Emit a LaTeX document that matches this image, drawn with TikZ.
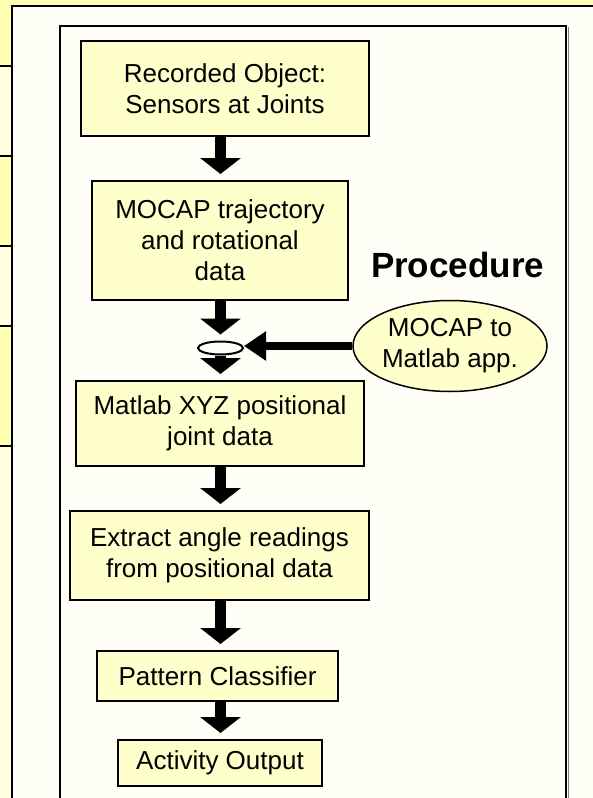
\documentclass[tikz,border=0pt]{standalone}
\usepackage{fontspec}
\setmainfont{Liberation Sans}
\usetikzlibrary{arrows.meta,shapes.geometric}
\definecolor{slide}{HTML}{FFFFB3}
\definecolor{rowpale}{HTML}{FFFFE0}
\definecolor{panel}{HTML}{FFFFF7}
\definecolor{boxfill}{HTML}{FFFFCC}

\begin{document}
\begin{tikzpicture}[x=1pt,y=-1pt,line join=miter]
\newcommand{\fsize}{\fontsize{26}{31}\selectfont}
\useasboundingbox (0,0) rectangle (593,798);
\clip (0,0) rectangle (593,798);
% slide background, side table and panels
\fill[slide] (0,0) rectangle (593,798);
\fill[rowpale] (0,66) rectangle (11,156);
\fill[rowpale] (0,246) rectangle (11,326);
\fill[rowpale] (0,446) rectangle (11,798);
\foreach \y in {66,156,246,326,446} \draw[line width=1.5pt] (0,\y) -- (11,\y);
\draw[line width=2pt,fill=panel] (11.5,5.5) rectangle (620,820);
\draw[gray,line width=1pt] (568,27) -- (568,820);
\draw[line width=2pt] (60,26) rectangle (566,820);
\tikzstyle{down}=[-{Triangle[width=40pt,length=16pt]},line width=11pt,shorten >=6pt]
\tikzstyle{feed}=[-{Triangle[width=28pt,length=22pt]},line width=8pt]
\begin{scope}[shape=rectangle]
\tikzstyle{every node}=[draw,line width=2pt,fill=boxfill,align=center,inner sep=0pt,font=\fsize]
\node[minimum width=288pt,minimum height=95pt] (P_1) at (225,88.5) {Recorded Object:\\Sensors at Joints};
\node[minimum width=256pt,minimum height=119pt] (P_2) at (220,240.5) {MOCAP trajectory\\and rotational\\data};
\node[ellipse,fill=panel,minimum width=45pt,minimum height=13pt] (J_0) at (220.5,348) {};
\node[ellipse,line width=1.5pt,minimum width=194pt,minimum height=91pt] (M_0) at (450,346) {MOCAP to\\Matlab app.};
\node[minimum width=288pt,minimum height=85pt] (P_3) at (220,423.5) {Matlab XYZ positional\\joint data};
\node[minimum width=299pt,minimum height=89pt] (P_4) at (219.5,555.5) {Extract angle readings\\from positional data};
\node[minimum width=241pt,minimum height=50pt] (P_5) at (217.5,676) {Pattern Classifier};
\node[minimum width=204pt,minimum height=46pt] (P_6) at (220,763) {Activity Output};
\node[draw=none,fill=none,anchor=base west,font=\fontsize{35}{40}\selectfont\bfseries] (T_0) at (370,277) {Procedure};
\end{scope}
\draw [down] (P_1.south -| J_0) -- (P_2.north -| J_0);
\draw [down] (P_2.south -| J_0) -- (J_0.north);
\draw [down] (J_0.south) -- (P_3.north -| J_0);
\draw [down] (P_3.south -| J_0) -- (P_4.north -| J_0);
\draw [down] (P_4.south -| J_0) -- (P_5.north -| J_0);
\draw [down] (P_5.south -| J_0) -- (P_6.north -| J_0);
\draw [feed] (M_0.west) -- (J_0.east |- M_0.west);
\end{tikzpicture}
\end{document}
